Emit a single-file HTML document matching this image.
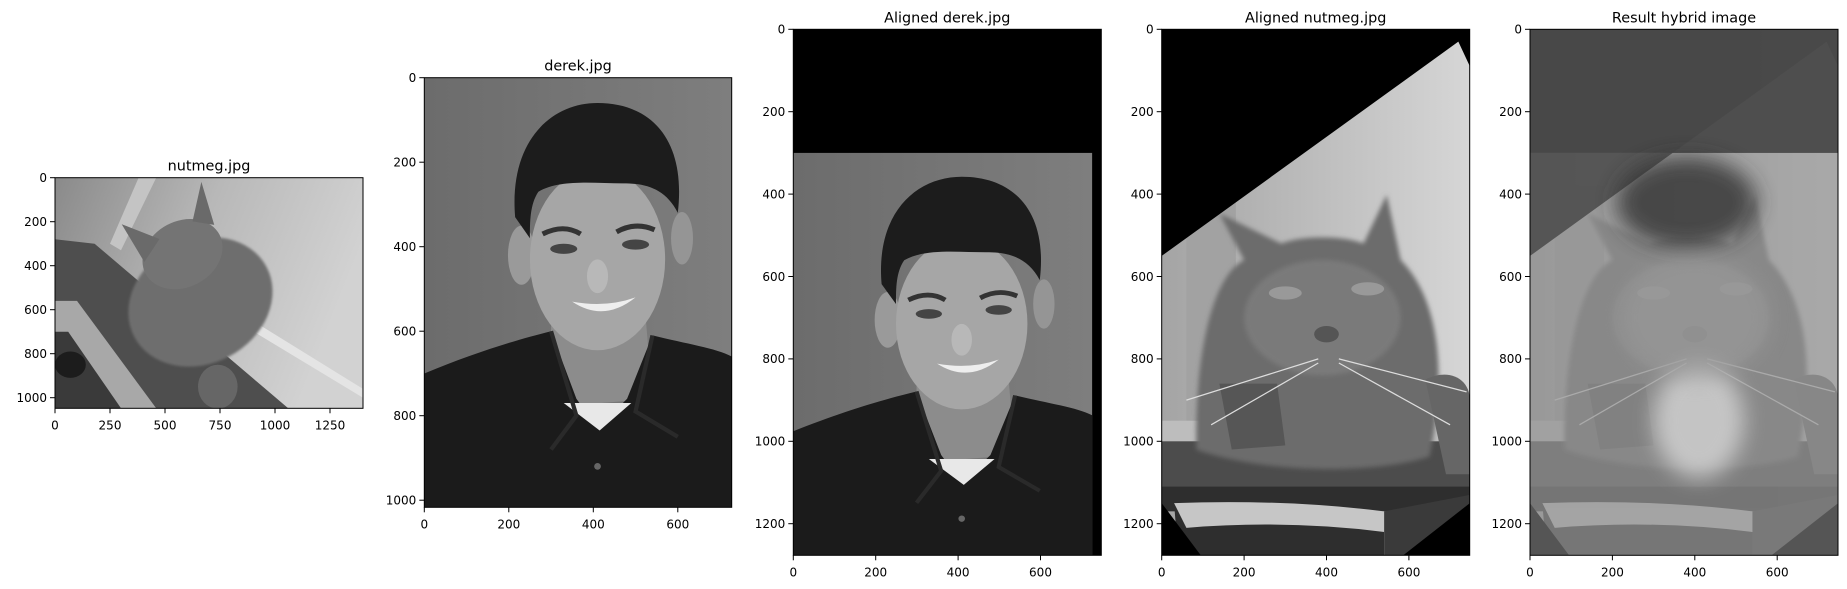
<!DOCTYPE html>
<html><head><meta charset="utf-8"><style>
html,body{margin:0;padding:0;background:#fff;}
svg{display:block;font-family:"DejaVu Sans","Liberation Sans",sans-serif;}
</style></head><body>
<svg id="fig" width="1847" height="589" viewBox="0 0 1847 589" xmlns="http://www.w3.org/2000/svg">
<defs>
<filter id="b3" x="-20%" y="-20%" width="140%" height="140%"><feGaussianBlur stdDeviation="6"/></filter>
<filter id="b10" x="-50%" y="-50%" width="200%" height="200%"><feGaussianBlur stdDeviation="25"/></filter>
<linearGradient id="wall1" x1="0" y1="0" x2="1" y2="0.3"><stop offset="0" stop-color="#8a8a8a"/><stop offset="0.5" stop-color="#b8b8b8"/><stop offset="1" stop-color="#d2d2d2"/></linearGradient>
<linearGradient id="wall4" x1="0" y1="0" x2="1" y2="0"><stop offset="0" stop-color="#a4a4a4"/><stop offset="1" stop-color="#d6d6d6"/></linearGradient>
<linearGradient id="dbg" x1="0" y1="0" x2="1" y2="0"><stop offset="0" stop-color="#6c6c6c"/><stop offset="1" stop-color="#7e7e7e"/></linearGradient>
<clipPath id="c1"><rect x="0" y="0" width="1400" height="1048"/></clipPath>
<clipPath id="c2"><rect x="0" y="0" width="727.5" height="1017"/></clipPath>
<clipPath id="c3"><rect x="0" y="0" width="748" height="1277"/></clipPath>
<g id="derek">
  <rect x="0" y="0" width="727.5" height="1017" fill="url(#dbg)"/>
  <ellipse cx="230" cy="420" rx="32" ry="70" fill="#9a9a9a"/>
  <ellipse cx="610" cy="380" rx="26" ry="62" fill="#959595"/>
  <path d="M300 520 L520 520 L540 760 L300 780 Z" fill="#8c8c8c"/>
  <ellipse cx="410" cy="430" rx="160" ry="215" fill="#a6a6a6"/>
  <path d="M215 330 C200 150 300 60 410 60 C540 60 620 150 600 320 C570 260 520 250 470 250 C400 250 320 240 270 270 C250 300 250 340 250 380 Z" fill="#1c1c1c"/>
  <ellipse cx="330" cy="405" rx="32" ry="12" fill="#444"/>
  <ellipse cx="500" cy="395" rx="32" ry="12" fill="#444"/>
  <path d="M280 370 Q330 345 370 370" stroke="#333" stroke-width="12" fill="none"/>
  <path d="M455 365 Q500 340 545 360" stroke="#333" stroke-width="12" fill="none"/>
  <ellipse cx="410" cy="470" rx="25" ry="40" fill="#b8b8b8"/>
  <path d="M350 530 Q425 580 500 520 Q430 545 350 530 Z" fill="#eeeeee"/>
  <path d="M0 700 C120 650 220 620 300 600 L360 760 L410 830 L480 760 L540 610 C620 630 690 640 727.5 660 L727.5 1017 L0 1017 Z" fill="#1b1b1b"/>
  <path d="M330 770 L490 770 L415 835 Z" fill="#e8e8e8"/>
  <path d="M300 600 L360 800 L300 880" stroke="#2a2a2a" stroke-width="10" fill="none"/>
  <path d="M540 610 L500 790 L600 850" stroke="#2a2a2a" stroke-width="10" fill="none"/>
  <circle cx="410" cy="920" r="8" fill="#666"/>
</g>
<g id="catscene">
  <rect x="0" y="0" width="748" height="1277" fill="url(#wall4)"/>
  <rect x="60" y="380" width="120" height="580" fill="#a2a2a2"/>
  <rect x="0" y="950" width="748" height="60" fill="#bdbdbd"/>
  <rect x="0" y="1000" width="748" height="120" fill="#4c4c4c"/>
  <rect x="0" y="1110" width="748" height="60" fill="#2e2e2e"/>
  <path d="M30 1150 Q300 1140 540 1170 L540 1277 L40 1277 Z" fill="#2e2e2e"/>
  <path d="M30 1150 Q300 1140 540 1170 L540 1220 Q300 1190 60 1210 Z" fill="#c6c6c6"/>
  <path d="M540 1170 L748 1130 L748 1277 L540 1277 Z" fill="#3a3a3a"/>
  <path d="M84 1020 C80 800 120 600 200 560 L140 447 L290 520 C340 500 440 500 490 520 L546 402 L580 560 C660 640 700 800 650 1037 C520 1080 250 1080 84 1020 Z" fill="#6c6c6c" filter="url(#b3)"/>
  <path d="M640 850 C700 820 748 850 748 900 L748 1080 L690 1080 Z" fill="#666"/>
  <path d="M140 860 L280 860 L300 1010 L170 1020 Z" fill="#565656"/>
  <ellipse cx="390" cy="700" rx="190" ry="140" fill="#7a7a7a" filter="url(#b3)"/>
  <ellipse cx="300" cy="640" rx="40" ry="16" fill="#999"/>
  <ellipse cx="500" cy="630" rx="40" ry="16" fill="#999"/>
  <ellipse cx="400" cy="740" rx="30" ry="20" fill="#555"/>
  <path d="M380 800 L60 900 M380 810 L120 960 M430 800 L740 880 M430 810 L700 960" stroke="#ddd" stroke-width="3" fill="none"/>
</g>
</defs>

<!-- Panel 1 -->
<g transform="translate(55,177.7) scale(0.22)">
 <g clip-path="url(#c1)">
  <rect x="0" y="0" width="1400" height="1048" fill="url(#wall1)"/>
  <path d="M850 620 L1400 960 L1400 1000 L820 650 Z" fill="#e4e4e4"/>
  <path d="M380 0 L460 0 L300 330 L250 300 Z" fill="#c4c4c4"/>
  <path d="M0 280 L180 300 L1060 1048 L0 1048 Z" fill="#4e4e4e"/>
  <path d="M0 560 L100 560 L460 1048 L0 1048 Z" fill="#a8a8a8"/>
  <path d="M0 700 L60 700 L300 1048 L0 1048 Z" fill="#3a3a3a"/>
  <ellipse cx="70" cy="850" rx="70" ry="60" fill="#1c1c1c"/>
  <g transform="rotate(-28 650 480)">
   <ellipse cx="620" cy="560" rx="340" ry="280" fill="#6e6e6e" filter="url(#b3)"/>
   <ellipse cx="650" cy="330" rx="190" ry="150" fill="#747474"/>
   <path d="M480 280 L470 80 L590 220 Z M760 220 L880 80 L840 280 Z" fill="#6a6a6a"/>
  </g>
  <ellipse cx="740" cy="950" rx="90" ry="100" fill="#666"/>
 </g>
</g>
<!-- Panel 2 -->
<g transform="translate(424.3,77.7) scale(0.4225)">
 <g clip-path="url(#c2)"><use href="#derek"/></g>
</g>
<!-- Panel 3 -->
<g transform="translate(793.3,29.3) scale(0.412)">
 <g clip-path="url(#c3)">
  <rect x="0" y="0" width="748" height="1277" fill="#000"/>
  <g transform="translate(0,300) scale(0.997,0.965)"><use href="#derek"/></g>
 </g>
</g>
<!-- Panel 4 -->
<g transform="translate(1161.7,29.3) scale(0.412)">
 <g clip-path="url(#c3)">
  <use href="#catscene"/>
  <path d="M0 0 L748 0 L748 90 L720 30 L0 550 Z" fill="#000"/>
  <path d="M0 1150 L95 1277 L0 1277 Z" fill="#000"/>
  <path d="M748 1150 L586 1277 L748 1277 Z" fill="#000"/>
 </g>
</g>
<!-- Panel 5 -->
<g transform="translate(1530,29.3) scale(0.412)">
 <g clip-path="url(#c3)">
  <use href="#catscene" opacity="0.55"/>
  <rect x="0" y="0" width="748" height="1277" fill="#5a5a5a" opacity="0.45"/>
  <path d="M0 0 L748 0 L748 300 L0 300 Z" fill="#444" opacity="0.85"/>
  <path d="M0 300 L748 300 L748 90 L720 30 L0 550 Z" fill="#4a4a4a" opacity="0.5"/>
  <path d="M0 0 L748 0 L748 90 L720 30 L0 550 Z" fill="#424242" opacity="0.6"/>
  <ellipse cx="380" cy="420" rx="170" ry="110" fill="#333" filter="url(#b10)" opacity="0.8"/>
  <ellipse cx="410" cy="950" rx="110" ry="140" fill="#d4d4d4" filter="url(#b10)" opacity="0.8"/>
  <ellipse cx="400" cy="700" rx="180" ry="150" fill="#9a9a9a" filter="url(#b10)" opacity="0.6"/>
  <path d="M0 1150 L95 1277 L0 1277 Z" fill="#555"/>
  <path d="M748 1150 L586 1277 L748 1277 Z" fill="#555"/>
 </g>
</g>
<g id="axes"></g>
</svg>
<script>
var panelTitles = ["nutmeg.jpg", "derek.jpg", "Aligned derek.jpg", "Aligned nutmeg.jpg", "Result hybrid image"];
var xTickSets = [[0,250,500,750,1000,1250],[0,200,400,600],[0,200,400,600],[0,200,400,600],[0,200,400,600]];
var yTickSets = [[0,200,400,600,800,1000],[0,200,400,600,800,1000],[0,200,400,600,800,1000,1200],[0,200,400,600,800,1000,1200],[0,200,400,600,800,1000,1200]];
var boxes = [
  {x:55, y:177.7, w:308, h:230.6, s:0.22},
  {x:424.3, y:77.7, w:307.4, h:429.6, s:0.4225},
  {x:793.3, y:29.3, w:308, h:526, s:0.412},
  {x:1161.7, y:29.3, w:308, h:526, s:0.412},
  {x:1530, y:29.3, w:308, h:526, s:0.412}
];
var NS = "http://www.w3.org/2000/svg";
var axes = document.getElementById("axes");
function mk(tag, attrs, parent){ var e=document.createElementNS(NS,tag); for(var k in attrs) e.setAttribute(k,attrs[k]); parent.appendChild(e); return e; }
boxes.forEach(function(b, i){
  var g = mk("g", {}, axes);
  
  
  var fr = mk("rect", {x:b.x, y:b.y, width:b.w, height:b.h, fill:"none", stroke:"#000", "stroke-width":1}, g);
  
  
  var t = mk("text", {x:b.x+b.w/2, y:b.y-7, "text-anchor":"middle", "font-size":"14.4", fill:"#000"}, g);
  t.textContent = panelTitles[i];
  
  
  xTickSets[i].forEach(function(v){
    var px = b.x + v*b.s;
    var tk = mk("line", {x1:px, x2:px, y1:b.y+b.h, y2:b.y+b.h+5, stroke:"#000", "stroke-width":1}, g);
    
    
    var lb = mk("text", {x:px, y:b.y+b.h+21, "text-anchor":"middle", "font-size":"12", fill:"#000"}, g);
    lb.textContent = v;
    
    
  });
  yTickSets[i].forEach(function(v){
    var py = b.y + v*b.s;
    var tk = mk("line", {x1:b.x-5, x2:b.x, y1:py, y2:py, stroke:"#000", "stroke-width":1}, g);
    
    
    var lb = mk("text", {x:b.x-8, y:py+4.3, "text-anchor":"end", "font-size":"12", fill:"#000"}, g);
    lb.textContent = v;
    
    
  });
});
</script>
</body></html>
